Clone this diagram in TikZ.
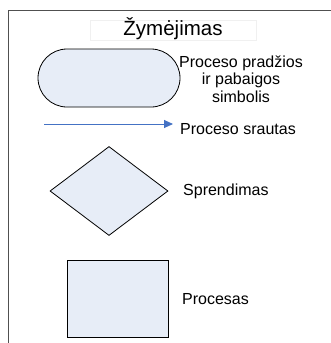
\documentclass[tikz,border=0pt]{standalone}
\usepackage{fontspec}
\setmainfont{Liberation Sans}
\usetikzlibrary{shapes.geometric,shapes.misc,arrows.meta}
\definecolor{shapefill}{HTML}{E7EDF7}
\definecolor{flowblue}{HTML}{4472C4}
\definecolor{framegray}{HTML}{505050}
\tikzset{
  x=1pt,y=-1pt,
  sym/.style={draw=black,line width=0.8pt,fill=shapefill},
  lbl/.style={font=\fontsize{16}{17.5}\selectfont,align=center,inner sep=0pt},
}
\begin{document}
\begin{tikzpicture}
\useasboundingbox (0,0) rectangle (331,343);
\fill[white] (0,0) rectangle (331,343);
% frame
\coordinate (ftr) at (331,10);
\coordinate (ftl) at (8,10);
\coordinate (fbl) at (8,343);
\draw[framegray,line width=1pt] (ftr) -- (ftl) -- (fbl);
% title
\draw[black!6,line width=0.6pt] (90,20) rectangle (256,40);
\node[lbl,font=\fontsize{20.5}{22}\selectfont] (title) at (173,29) {Žymėjimas};
% terminator
\node[sym,rounded rectangle,minimum width=142pt,minimum height=58pt,inner sep=0pt] (term) at (109,78) {};
\node[lbl] (termlbl) at (241,79) {Proceso pradžios\\ir pabaigos\\simbolis};
% flow
\coordinate (fa) at (44,124);
\coordinate (fb) at (173,124);
\draw[flowblue,line width=0.9pt,-{Triangle[length=9pt,width=8pt]}] (fa) -- (fb);
\node[lbl,anchor=west] (flowlbl) at (180,129) {Proceso srautas};
% decision
\node[sym,diamond,aspect=1.33,minimum width=118pt,minimum height=89pt,inner sep=0pt] (dec) at (109,191) {};
\node[lbl,anchor=west] (declbl) at (183,191) {Sprendimas};
% process
\node[sym,rectangle,minimum width=101pt,minimum height=77pt,inner sep=0pt] (proc) at (117.5,298.5) {};
\node[lbl,anchor=west] (proclbl) at (182,299) {Procesas};
\end{tikzpicture}
\end{document}
